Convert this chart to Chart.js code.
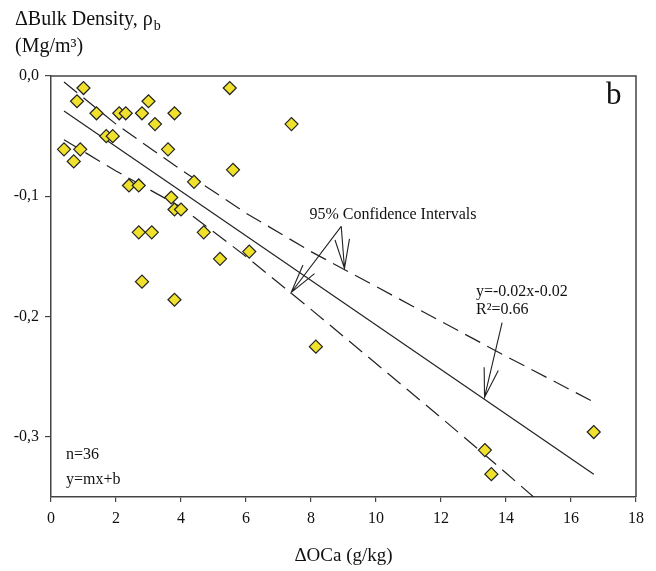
<!DOCTYPE html>
<html>
<head>
<meta charset="utf-8">
<script src="https://cdn.jsdelivr.net/npm/chart.js@4.4.1/dist/chart.umd.min.js"></script>
<style>
  body { margin: 0; background: #fff; }
  #wrap { width: 656px; height: 571px; }
</style>
</head>
<body>
<div id="wrap"><canvas id="grafico" width="656" height="571"></canvas></div>
<script>
// Datos (ΔOCa en g/kg, Δ densidad aparente en Mg/m3)
const ocX = [0.4, 0.7, 0.8, 0.9, 1.0, 1.4, 1.7, 1.9, 2.1, 2.3, 2.4, 2.7, 2.7, 2.8, 2.8, 3.0, 3.1, 3.2,
             3.6, 3.7, 3.8, 3.8, 3.8, 4.0, 4.4, 4.7, 5.2, 5.5, 5.6, 6.1, 7.4, 8.15, 13.35, 13.55, 16.7];
const densY = [-0.061, -0.071, -0.021, -0.061, -0.010, -0.031, -0.050, -0.050, -0.031, -0.031, -0.091, -0.091, -0.130, -0.031, -0.171, -0.021, -0.130, -0.040,
               -0.061, -0.101, -0.031, -0.111, -0.186, -0.111, -0.088, -0.130, -0.152, -0.010, -0.078, -0.146, -0.040, -0.225, -0.311, -0.331, -0.296];

// recta de regresion (extremos)
const fitX = [0.4, 16.7];
const fitY = [-0.029, -0.331];

// bandas de confianza 95%
const bandX = [0.4, 2, 4, 6, 8, 10, 12, 14, 16.7];
const bandUp = [-0.005, -0.040, -0.078, -0.114, -0.146, -0.175, -0.204, -0.233, -0.271];
const bandLowX = [0.4, 2, 4, 6, 8, 10, 12, 14, 14.85];
const bandLow = [-0.053, -0.079, -0.109, -0.150, -0.194, -0.239, -0.284, -0.330, -0.350];

const yTicks = [0, -0.1, -0.2, -0.3];
const yTickLabels = ["0,0", "-0,1", "-0,2", "-0,3"];

const pts = (xs, ys) => xs.map((v, i) => ({ x: v, y: ys[i] }));

Chart.defaults.font.family = '"Liberation Serif", "DejaVu Serif", serif';
Chart.defaults.color = '#111';

const LINEA = '#222';
const EJE = '#444';
const SERIF = '"Liberation Serif", "DejaVu Serif", serif';

// textos, flechas y marco
const decorado = {
  id: 'decorado',
  afterDraw(chart) {
    const { ctx, chartArea: a, scales: { x, y } } = chart;
    const px = v => x.getPixelForValue(v);
    const py = v => y.getPixelForValue(v);

    ctx.save();
    // marco superior y derecho
    ctx.strokeStyle = EJE;
    ctx.lineWidth = 1.5;
    ctx.beginPath();
    ctx.moveTo(a.left, a.top);
    ctx.lineTo(a.right, a.top);
    ctx.lineTo(a.right, a.bottom);
    ctx.stroke();

    // titulo eje y
    ctx.fillStyle = '#111';
    ctx.textBaseline = 'alphabetic';
    ctx.textAlign = 'left';
    ctx.font = '20px ' + SERIF;
    const t1 = 'ΔBulk Density, ρ';
    ctx.fillText(t1, 15, 25);
    const w1 = ctx.measureText(t1).width;
    ctx.font = '14px ' + SERIF;
    ctx.fillText('b', 15 + w1 + 1, 30);
    ctx.font = '20px ' + SERIF;
    ctx.fillText('(Mg/m³)', 15, 52);

    // letra del panel
    ctx.font = '31px ' + SERIF;
    ctx.fillText('b', 606, 104);

    // notas
    ctx.font = '16px ' + SERIF;
    ctx.fillText('n=36', 66, 459);
    ctx.fillText('y=mx+b', 66, 484);
    ctx.fillText('y=-0.02x-0.02', 476, 296);
    ctx.fillText('R²=0.66', 476, 314);
    ctx.textAlign = 'center';
    ctx.fillText('95% Confidence Intervals', 393, 219);

    // flechas
    ctx.strokeStyle = LINEA;
    ctx.lineWidth = 1.1;
    const flecha = (x0, y0, x1, y1) => {
      const X0 = px(x0), Y0 = py(y0), X1 = px(x1), Y1 = py(y1);
      const ang = Math.atan2(Y0 - Y1, X0 - X1);
      const L = 30, d = 14 * Math.PI / 180;
      ctx.beginPath();
      ctx.moveTo(X0, Y0);
      ctx.lineTo(X1, Y1);
      ctx.moveTo(X1 + L * Math.cos(ang - d), Y1 + L * Math.sin(ang - d));
      ctx.lineTo(X1, Y1);
      ctx.lineTo(X1 + L * Math.cos(ang + d), Y1 + L * Math.sin(ang + d));
      ctx.stroke();
    };
    flecha(8.93, -0.125, 7.39, -0.180);
    flecha(8.93, -0.125, 9.03, -0.160);
    flecha(13.88, -0.205, 13.34, -0.267);
    ctx.restore();
  }
};

const ctx = document.getElementById('grafico').getContext('2d');
new Chart(ctx, {
  type: 'scatter',
  data: {
    datasets: [
      {
        data: pts(ocX, densY),
        pointStyle: 'rectRot',
        pointRadius: 6.5,
        pointBackgroundColor: '#f0e22c',
        pointBorderColor: '#222',
        pointBorderWidth: 1.2,
        order: 0
      },
      {
        data: pts(fitX, fitY),
        showLine: true,
        borderColor: LINEA,
        borderWidth: 1.2,
        pointRadius: 0,
        order: 1
      },
      {
        data: pts(bandX, bandUp),
        showLine: true,
        borderColor: LINEA,
        borderWidth: 1.2,
        borderDash: [17, 8],
        pointRadius: 0,
        order: 1
      },
      {
        data: pts(bandLowX, bandLow),
        showLine: true,
        borderColor: LINEA,
        borderWidth: 1.2,
        borderDash: [17, 8],
        pointRadius: 0,
        order: 1
      }
    ]
  },
  options: {
    responsive: false,
    animation: false,
    layout: { padding: { left: 0, top: 76, right: 20, bottom: 0 } },
    plugins: {
      legend: { display: false },
      tooltip: { enabled: false }
    },
    scales: {
      x: {
        type: 'linear',
        min: 0,
        max: 18,
        ticks: { stepSize: 2, font: { size: 16 }, color: '#111', padding: 7, maxRotation: 0 },
        grid: { drawOnChartArea: false, drawTicks: true, tickLength: 5, color: EJE, lineWidth: 1.2 },
        border: { display: true, color: EJE, width: 1.5 },
        title: { display: true, text: 'ΔOCa (g/kg)', font: { size: 19 }, color: '#111', padding: { top: 10 } },
        afterFit: s => { s.height = 74; }
      },
      y: {
        type: 'linear',
        min: -0.35,
        max: 0,
        afterBuildTicks: s => { s.ticks = yTicks.map(v => ({ value: v })); },
        ticks: {
          font: { size: 16 },
          color: '#111',
          padding: 6,
          callback: (v, i) => yTickLabels[i]
        },
        grid: { drawOnChartArea: false, drawTicks: true, tickLength: 6, color: EJE, lineWidth: 1.2 },
        border: { display: true, color: EJE, width: 1.5 },
        afterFit: s => { s.width = 51; }
      }
    }
  },
  plugins: [decorado]
});
</script>
</body>
</html>
